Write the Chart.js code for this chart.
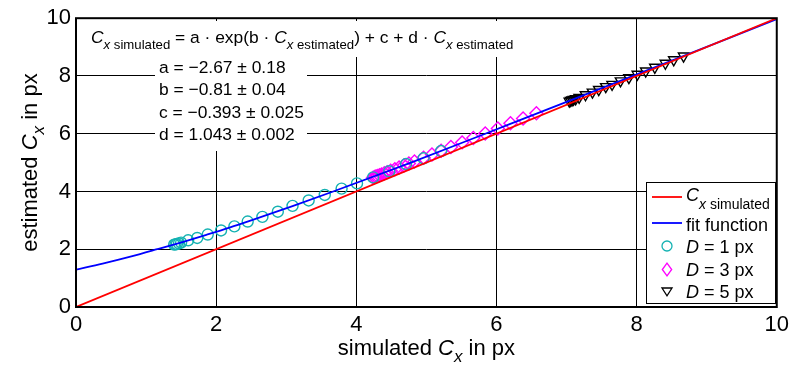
<!DOCTYPE html>
<html>
<head>
<meta charset="utf-8">
<title>Cx fit</title>
<script src="https://cdn.jsdelivr.net/npm/chart.js@4.4.0/dist/chart.umd.min.js"></script>
<style>
html, body { margin: 0; padding: 0; background: #fff; }
#container { width: 794px; height: 372px; }
</style>
</head>
<body>
<div id="container"><canvas id="canvas"></canvas></div>
<script>
// axis ticks
var xTicks = [0, 2, 4, 6, 8, 10];
var yTicks = [0, 2, 4, 6, 8, 10];

// C_x simulated (identity line)
var idealX = [0, 10];
var idealY = [0, 10];

// fit function
var fitX = [0, 0.38, 0.79, 1.16, 1.52, 1.86, 2.19, 2.50, 3.10, 3.67, 4.78, 5.84, 7.95, 10];
var fitY = [1.29, 1.50, 1.75, 2.00, 2.25, 2.50, 2.75, 3.00, 3.50, 4.00, 5.00, 6.00, 8.00, 9.97];

// D = 1 px
var d1X = [1.40, 1.42, 1.44, 1.47, 1.50, 1.60, 1.73, 1.88, 2.07, 2.26, 2.45, 2.66, 2.88, 3.09, 3.32, 3.55, 3.79, 4.01, 4.24, 4.47, 4.71, 4.96, 5.21];
var d1Y = [2.16, 2.17, 2.18, 2.20, 2.23, 2.31, 2.39, 2.51, 2.65, 2.79, 2.96, 3.12, 3.30, 3.50, 3.69, 3.88, 4.10, 4.28, 4.49, 4.70, 4.95, 5.15, 5.40];

// D = 3 px
var d3X = [4.24, 4.26, 4.28, 4.30, 4.33, 4.36, 4.40, 4.44, 4.49, 4.55, 4.61, 4.68, 4.75, 4.83, 4.96, 5.08, 5.21, 5.35, 5.51, 5.67, 5.84, 6.02, 6.20, 6.38, 6.57];
var d3Y = [4.48, 4.50, 4.52, 4.54, 4.56, 4.59, 4.63, 4.67, 4.72, 4.77, 4.83, 4.90, 4.97, 5.04, 5.17, 5.28, 5.41, 5.54, 5.70, 5.85, 6.01, 6.18, 6.36, 6.53, 6.71];

// D = 5 px
var d5X = [7.04, 7.06, 7.08, 7.10, 7.13, 7.18, 7.27, 7.37, 7.46, 7.56, 7.65, 7.77, 7.89, 8.01, 8.13, 8.26, 8.41, 8.53, 8.67];
var d5Y = [7.13, 7.15, 7.17, 7.19, 7.21, 7.26, 7.35, 7.44, 7.53, 7.63, 7.71, 7.83, 7.94, 8.06, 8.17, 8.30, 8.44, 8.56, 8.69];

var FAMILY = '"Liberation Sans", Arial, Helvetica, sans-serif';
var CYAN = '#14b2b2';

function pts(xs, ys) {
  var out = [];
  for (var i = 0; i < xs.length; i++) out.push({ x: xs[i], y: ys[i] });
  return out;
}

function fontOf(p) {
  return (p.it ? 'italic ' : '') + p.sz + 'px ' + FAMILY;
}

// draws a run of text pieces (for italics and subscripts)
function drawRich(ctx, parts, x, y, align) {
  var total = 0;
  parts.forEach(function (p) { ctx.font = fontOf(p); total += ctx.measureText(p.t).width; });
  var cx = align === 'center' ? x - total / 2 : x;
  ctx.textAlign = 'left';
  ctx.textBaseline = 'alphabetic';
  parts.forEach(function (p) {
    ctx.font = fontOf(p);
    ctx.fillText(p.t, cx, y + (p.dy || 0));
    cx += ctx.measureText(p.t).width;
  });
  return total;
}

function marker(ctx, style, x, y, r, color) {
  ctx.save();
  ctx.strokeStyle = color;
  ctx.lineWidth = 1.3;
  ctx.beginPath();
  if (style === 'circle') {
    ctx.arc(x, y, r, 0, Math.PI * 2);
  } else if (style === 'diamond') {
    ctx.moveTo(x, y - r * 1.15); ctx.lineTo(x + r * 0.85, y); ctx.lineTo(x, y + r * 1.15); ctx.lineTo(x - r * 0.85, y); ctx.closePath();
  } else {
    ctx.moveTo(x - r, y - r * 0.6); ctx.lineTo(x + r, y - r * 0.6); ctx.lineTo(x, y + r * 0.95); ctx.closePath();
  }
  ctx.stroke();
  ctx.restore();
}

var sub = function (t, it) { return { t: t, sz: 13.2, it: !!it, dy: 5.5 }; };
var main = function (t, it) { return { t: t, sz: 17.4, it: !!it }; };

var decor = {
  id: 'decor',
  beforeDatasetsDraw: function (chart) {
    var ctx = chart.ctx;
    ctx.save();
    // text boxes with white background over the grid
    ctx.fillStyle = '#fff';
    ctx.fillRect(86, 21, 434, 36);
    ctx.fillRect(155, 57, 152, 94);
    ctx.fillStyle = '#000';
    drawRich(ctx, [
      main('C', true), sub('x', true), sub(' simulated'),
      main(' = a \u00b7 exp(b \u00b7 '), main('C', true), sub('x', true), sub(' estimated'),
      main(') + c + d \u00b7 '), main('C', true), sub('x', true), sub(' estimated')
    ], 91, 43, 'left');
    var lines = ['a = \u22122.67 \u00b1 0.18', 'b = \u22120.81 \u00b1 0.04', 'c = \u22120.393 \u00b1 0.025', 'd = 1.043 \u00b1 0.002'];
    for (var i = 0; i < lines.length; i++) {
      drawRich(ctx, [main(lines[i])], 159, 73 + i * 22.3, 'left');
    }
    ctx.restore();
  },
  afterDraw: function (chart) {
    var ctx = chart.ctx;
    var a = chart.chartArea;
    ctx.save();
    // plot frame
    ctx.strokeStyle = '#000';
    ctx.lineWidth = 2;
    ctx.strokeRect(a.left, a.top, a.right - a.left, a.bottom - a.top);

    // legend
    ctx.fillStyle = '#fff';
    ctx.fillRect(646, 182, 129, 121);
    ctx.lineWidth = 1;
    ctx.strokeRect(646.5, 182.5, 129, 121);
    ctx.lineWidth = 1.8;
    ctx.strokeStyle = '#ff0000';
    ctx.beginPath(); ctx.moveTo(652, 197); ctx.lineTo(682, 197); ctx.stroke();
    ctx.strokeStyle = '#0000ff';
    ctx.beginPath(); ctx.moveTo(652, 223); ctx.lineTo(682, 223); ctx.stroke();
    marker(ctx, 'circle', 667, 246, 5, CYAN);
    marker(ctx, 'diamond', 667, 269.5, 5.5, '#ff00ff');
    marker(ctx, 'triangle', 667, 291, 5, '#000');
    ctx.fillStyle = '#000';
    var lg = function (t, it) { return { t: t, sz: 18, it: !!it }; };
    var ls = function (t, it) { return { t: t, sz: 14, it: !!it, dy: 8 }; };
    drawRich(ctx, [lg('C', true), ls('x', true), ls(' simulated')], 686, 201, 'left');
    drawRich(ctx, [lg('fit function')], 686, 231, 'left');
    drawRich(ctx, [lg('D', true), lg(' = 1 px')], 686, 253, 'left');
    drawRich(ctx, [lg('D', true), lg(' = 3 px')], 686, 276, 'left');
    drawRich(ctx, [lg('D', true), lg(' = 5 px')], 686, 298, 'left');

    // axis titles
    var tt = function (t, it) { return { t: t, sz: 22, it: !!it }; };
    var ts = function (t, it) { return { t: t, sz: 17, it: !!it, dy: 7 }; };
    drawRich(ctx, [tt('simulated '), tt('C', true), ts('x', true), tt(' in px')], (a.left + a.right) / 2, 355, 'center');
    ctx.translate(37, (a.top + a.bottom) / 2);
    ctx.rotate(-Math.PI / 2);
    drawRich(ctx, [tt('estimated '), tt('C', true), ts('x', true), tt(' in px')], 0, 0, 'center');
    ctx.restore();
  }
};

var ctx = document.getElementById('canvas').getContext('2d');
window.myChart = new Chart(ctx, {
  type: 'scatter',
  data: {
    datasets: [
      { label: 'Cx simulated', data: pts(idealX, idealY), showLine: true, borderColor: '#ff0000', borderWidth: 1.8, pointRadius: 0, fill: false },
      { label: 'fit function', data: pts(fitX, fitY), showLine: true, borderColor: '#0000ff', borderWidth: 1.8, pointRadius: 0, fill: false, cubicInterpolationMode: 'monotone' },
      { label: 'D = 1 px', data: pts(d1X, d1Y), pointStyle: 'circle', pointRadius: 5.5, borderColor: CYAN, backgroundColor: 'rgba(0,0,0,0)', borderWidth: 1.4 },
      { label: 'D = 3 px', data: pts(d3X, d3Y), pointStyle: 'rectRot', pointRadius: 6.5, borderColor: '#ff00ff', backgroundColor: 'rgba(0,0,0,0)', borderWidth: 1.4 },
      { label: 'D = 5 px', data: pts(d5X, d5Y), pointStyle: 'triangle', pointRotation: 180, pointRadius: 6, borderColor: '#000', backgroundColor: 'rgba(0,0,0,0)', borderWidth: 1.4 }
    ]
  },
  options: {
    responsive: true,
    maintainAspectRatio: false,
    animation: false,
    layout: { padding: { left: 0, right: 15, top: 10, bottom: 0 } },
    plugins: { legend: { display: false }, tooltip: { enabled: false } },
    scales: {
      x: {
        type: 'linear', min: 0, max: 10,
        afterFit: function (s) { s.height = 65; },
        afterBuildTicks: function (s) { s.ticks = xTicks.map(function (v) { return { value: v }; }); },
        grid: { color: '#000', lineWidth: 1, drawTicks: false },
        border: { display: false },
        ticks: { color: '#000', padding: 5, maxRotation: 0, font: { family: FAMILY, size: 22 } }
      },
      y: {
        type: 'linear', min: 0, max: 10,
        afterFit: function (s) { s.width = 76; },
        afterBuildTicks: function (s) { s.ticks = yTicks.map(function (v) { return { value: v }; }); },
        grid: { color: '#000', lineWidth: 1, drawTicks: false },
        border: { display: false },
        ticks: { color: '#000', padding: 5, font: { family: FAMILY, size: 22 } }
      }
    }
  },
  plugins: [decor]
});
</script>
</body>
</html>
